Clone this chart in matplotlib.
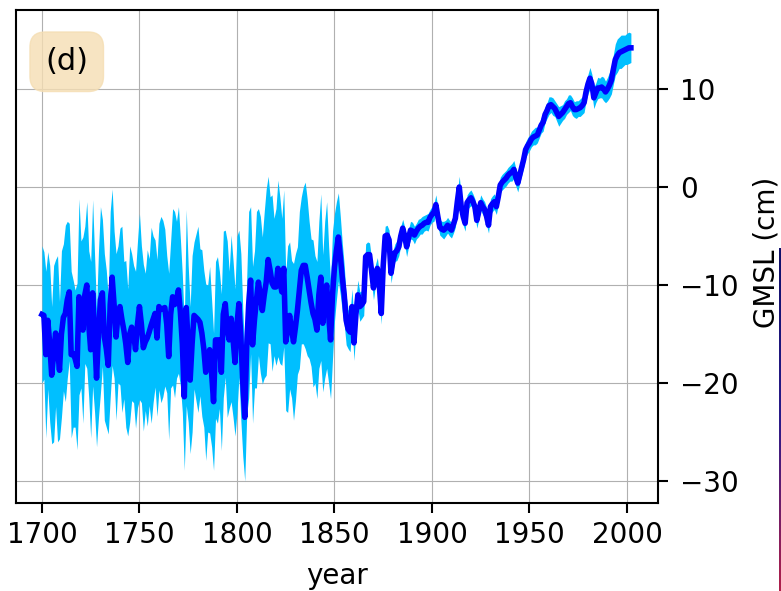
import numpy as np
import matplotlib
matplotlib.use("Agg")
import matplotlib.pyplot as plt
from matplotlib.colors import LinearSegmentedColormap

# yearly GMSL reconstruction (cm), 1700-2002
years = np.arange(1700, 2003)
gmsl = [
    -13.0, -13.1, -17.1, -13.6, -16.0, -19.2, -17.0, -14.9, -16.5, -18.7,   # 1700s
    -15.0, -13.3, -12.9, -11.5, -10.7, -17.1, -17.0, -17.5, -18.3, -11.2,   # 1710s
    -13.0, -14.6, -11.0, -10.0, -14.0, -16.6, -10.8, -15.0, -19.5, -15.0,   # 1720s
    -11.5, -10.8, -15.3, -16.5, -18.2, -12.0, -9.2, -12.0, -15.3, -13.0,    # 1730s
    -12.2, -13.5, -14.6, -16.0, -17.9, -15.0, -14.3, -15.0, -16.6, -14.0,   # 1740s
    -12.2, -14.0, -16.4, -15.8, -15.4, -14.8, -14.1, -13.5, -12.9, -15.4,   # 1750s
    -12.2, -12.5, -12.4, -12.3, -14.0, -17.3, -13.0, -11.2, -12.0, -11.5,   # 1760s
    -10.5, -12.8, -16.0, -21.4, -12.3, -16.0, -19.7, -16.0, -13.1, -13.3,   # 1770s
    -13.5, -13.8, -14.9, -16.5, -18.9, -17.5, -16.6, -19.0, -21.9, -15.6,   # 1780s
    -15.6, -15.6, -18.9, -13.0, -11.9, -14.5, -15.6, -13.4, -15.5, -17.9,   # 1790s
    -14.0, -11.9, -15.3, -20.0, -23.5, -16.3, -12.0, -9.5, -16.1, -13.5,    # 1800s
    -11.5, -9.7, -11.0, -12.6, -11.0, -9.7, -7.4, -8.5, -9.8, -10.2,        # 1810s
    -10.2, -8.3, -9.5, -10.7, -8.3, -15.8, -14.5, -13.1, -14.5, -15.8,      # 1820s
    -14.3, -12.6, -10.5, -8.5, -8.0, -8.0, -9.2, -10.5, -11.8, -12.9,       # 1830s
    -13.5, -14.6, -11.0, -9.2, -13.9, -11.5, -10.0, -13.0, -15.6, -11.0,    # 1840s
    -8.2, -6.5, -5.1, -7.0, -9.2, -11.0, -13.6, -14.5, -14.8, -12.2,        # 1850s
    -15.9, -13.0, -11.0, -12.2, -12.0, -11.7, -7.1, -6.9, -6.9, -8.5,       # 1860s
    -10.3, -9.0, -8.3, -10.0, -12.9, -8.0, -5.0, -4.9, -5.4, -8.8,          # 1870s
    -7.5, -6.7, -6.5, -6.1, -5.0, -4.2, -5.0, -6.1, -5.2, -4.4,             # 1880s
    -4.5, -4.9, -4.5, -4.2, -4.0, -3.9, -3.7, -3.6, -3.6, -3.1,             # 1890s
    -2.8, -2.6, -1.8, -3.0, -4.1, -4.3, -4.4, -4.2, -3.9, -4.2,             # 1900s
    -4.4, -3.8, -3.2, -1.5, 0.0, -2.0, -3.0, -3.7, -1.6, -1.3,              # 1910s
    -1.1, -1.5, -2.0, -3.4, -2.5, -1.6, -2.0, -2.3, -3.0, -3.9,             # 1920s
    -2.0, -1.7, -1.5, -2.0, -1.0, 0.2, 0.5, 0.7, 0.9, 1.2,                  # 1930s
    1.4, 1.5, 1.8, 1.0, 0.4, 1.2, 2.0, 2.8, 3.8, 4.2,                       # 1940s
    4.5, 4.9, 5.1, 5.2, 5.3, 5.8, 6.3, 6.6, 7.4, 7.8,                       # 1950s
    8.3, 8.4, 8.2, 8.0, 7.6, 7.2, 7.4, 7.6, 7.9, 8.2,                       # 1960s
    8.5, 8.6, 8.2, 7.9, 7.9, 8.0, 8.1, 8.3, 8.6, 9.7,                       # 1970s
    10.5, 11.1, 10.5, 9.1, 9.6, 10.1, 10.1, 10.2, 10.0, 9.7,                # 1980s
    10.0, 10.4, 10.9, 12.0, 13.0, 13.4, 13.7, 13.8, 13.9, 14.0,             # 1990s
    14.1, 14.2, 14.2,                                                       # 2000-2002
]
gmsl_err = [
    7.0, 6.5, 8.5, 7.0, 8.0, 7.0, 9.0, 7.5, 9.5, 7.0,
    8.5, 7.5, 9.0, 8.0, 7.0, 8.5, 7.5, 7.0, 8.5, 10.0,
    7.5, 9.5, 7.0, 8.5, 7.5, 9.0, 9.5, 8.0, 7.0, 8.5,
    9.5, 7.5, 8.5, 8.0, 7.0, 9.5, 9.0, 7.5, 8.5, 7.0,
    8.0, 9.5, 7.0, 8.5, 7.5, 9.0, 7.5, 7.0, 8.0, 8.5,
    9.5, 8.0, 8.5, 7.0, 9.0, 7.5, 10.0, 8.5, 7.5, 8.0,
    8.5, 9.5, 9.0, 8.0, 7.0, 8.5, 7.5, 9.0, 9.5, 8.0,
    8.5, 7.5, 7.0, 7.5, 10.0, 8.0, 7.5, 9.0, 7.5, 8.5,
    9.5, 7.5, 8.5, 8.0, 9.0, 7.5, 8.5, 7.5, 7.0, 8.0,
    8.5, 7.0, 8.0, 8.5, 7.5, 9.0, 7.0, 8.5, 8.0, 7.5,
    9.0, 7.5, 8.5, 7.5, 6.5, 7.0, 9.5, 7.5, 8.0, 7.0,
    9.0, 7.5, 8.0, 7.5, 8.5, 9.5, 8.5, 7.5, 9.0, 7.0,
    8.0, 9.0, 8.5, 7.5, 8.0, 7.0, 8.5, 7.5, 7.0, 8.0,
    7.5, 6.5, 8.0, 7.5, 8.0, 8.5, 8.0, 7.0, 6.5, 7.5,
    6.5, 7.0, 7.5, 8.5, 7.0, 8.0, 8.5, 7.0, 6.0, 6.5,
    5.5, 5.0, 4.5, 4.0, 3.5, 3.0, 2.5, 2.0, 2.0, 1.8,
    1.8, 1.6, 1.5, 1.5, 1.4, 1.4, 1.3, 1.3, 1.2, 1.2,
    1.2, 1.1, 1.1, 1.1, 1.1, 1.1, 1.0, 1.0, 1.0, 1.0,
    1.0, 0.9, 1.0, 0.9, 1.0, 0.9, 0.9, 1.0, 0.9, 0.9,
    0.9, 0.9, 0.8, 0.9, 0.8, 0.9, 0.8, 0.8, 0.9, 0.8,
    0.8, 0.9, 1.0, 0.9, 0.8, 0.8, 0.9, 0.8, 0.8, 0.8,
    0.8, 0.9, 0.9, 1.0, 1.1, 1.0, 0.9, 0.8, 0.8, 0.8,
    0.8, 0.8, 0.8, 0.8, 0.8, 0.8, 0.8, 0.8, 0.9, 0.8,
    0.8, 0.8, 0.8, 0.8, 0.8, 0.8, 0.8, 0.8, 0.8, 0.8,
    0.8, 0.9, 0.9, 0.9, 0.9, 0.8, 0.8, 0.8, 0.8, 0.8,
    0.8, 0.8, 0.8, 0.9, 0.8, 0.8, 0.8, 0.9, 0.8, 0.8,
    0.9, 0.8, 0.9, 0.8, 0.9, 1.0, 0.9, 0.8, 0.9, 0.8,
    0.9, 0.8, 0.9, 0.8, 0.9, 0.8, 0.9, 0.9, 1.0, 0.9,
    1.0, 1.1, 1.0, 1.1, 1.0, 1.1, 1.0, 1.1, 1.2, 1.1,
    1.2, 1.3, 1.4, 1.5, 1.6, 1.7, 1.6, 1.7, 1.6, 1.5,
    1.6, 1.6, 1.5,
]
xticks = [1700, 1750, 1800, 1850, 1900, 1950, 2000]
yticks = [-30, -20, -10, 0, 10]

gmsl = np.array(gmsl)
gmsl_err = np.array(gmsl_err)

plt.rcParams['font.family'] = 'DejaVu Sans'
fig = plt.figure(figsize=(7.81, 5.91), dpi=100)
ax = fig.add_axes([16/781, 1 - 503/591, (658 - 16)/781, (503 - 10)/591])

ax.fill_between(years, gmsl - gmsl_err, gmsl + gmsl_err, color='deepskyblue', lw=0)
ax.plot(years, gmsl, color='blue', lw=4)

ax.set_xlim(1686.7, 2015.9)
ax.set_ylim(-32.24, 18.06)
ax.set_xticks(xticks)
ax.set_yticks(yticks)
ax.yaxis.tick_right()
ax.grid(True, color='#b0b0b0', lw=0.8)
ax.set_axisbelow(True)
for s in ax.spines.values():
    s.set_linewidth(1.5)
ax.tick_params(labelsize=20, length=7, width=1.5, pad=6)
ax.tick_params(axis='y', pad=9)
ax.set_xlabel('year', fontsize=20, labelpad=9)

ax.text(0.079, 0.895, '(d)', transform=ax.transAxes, fontsize=22, ha='center', va='center',
        bbox=dict(boxstyle='round,pad=0.5', facecolor='wheat', edgecolor='wheat', alpha=0.8))

fig.text(767/781, 1 - 252/591, 'GMSL (cm)', rotation=90, fontsize=20, ha='center', va='center')

# sliver of a neighbouring colorbar at the right edge
cax = fig.add_axes([779/781, 0, 0.02, 1 - 248/591])
cmap = LinearSegmentedColormap.from_list('edge', ['#b0204a', '#2a1a8a', '#10106a'])
cax.imshow(np.linspace(0, 1, 100)[:, None], aspect='auto', cmap=cmap, origin='lower')
cax.set_axis_off()

fig.savefig('out.png', dpi=100)
